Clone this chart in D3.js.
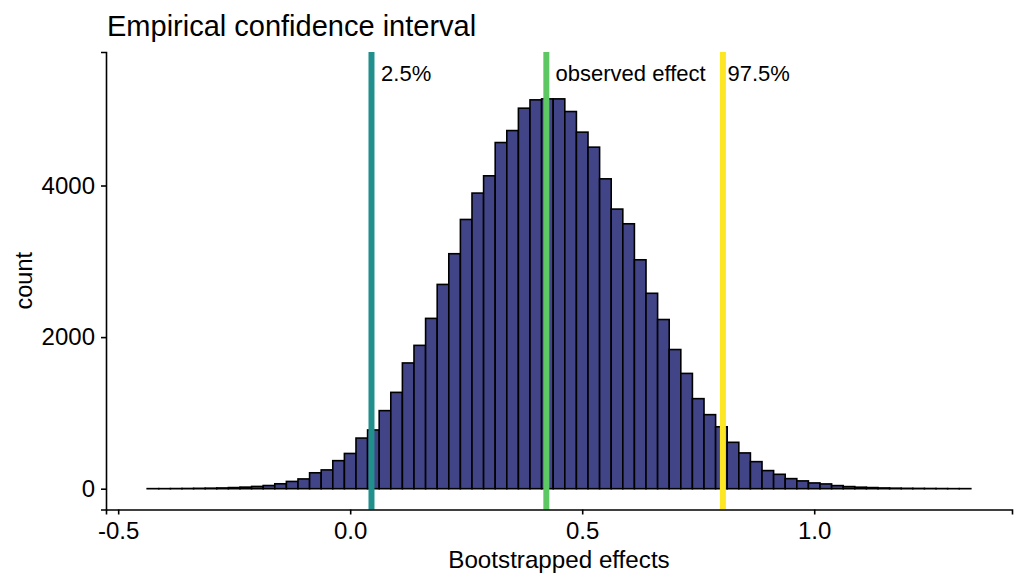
<!DOCTYPE html>
<html>
<head>
<meta charset="utf-8">
<script src="https://cdn.jsdelivr.net/npm/d3@7"></script>
<style>
  body { margin: 0; background: #fff; }
  svg { font-family: "Liberation Sans", Arial, sans-serif; }
</style>
</head>
<body>
<svg width="1024" height="585"></svg>
<script>
// histogram bins: first lower edge and width, then count per bin
const binStart = -0.4375;
const binWidth = 0.025;
const counts = [
  1, 1, 2, 3, 5, 7, 10, 15, 21, 30,
  42, 65, 96, 129, 210, 248, 370, 465, 668, 775,
  1030, 1271, 1659, 1891, 2247, 2695, 3100, 3552, 3900, 4128,
  4567, 4725, 5020, 5130, 5143, 5143, 4976, 4704, 4506, 4088,
  3689, 3495, 3020, 2578, 2232, 1836, 1521, 1188, 977, 817,
  612, 472, 357, 239, 190, 133, 103, 76, 63, 41,
  28, 20, 15, 10, 7, 5, 4, 3, 2, 1, 1
];

// vertical reference lines and their labels
const cutoffs = [0.0459, 0.4227, 0.8032];
const cutoffLabels = ['2.5%', 'observed effect', '97.5%'];
const labelX = [0.0665, 0.4426, 0.813];
const labelY = 5487;
const cutoffColors = ['#21908C', '#5DC863', '#FDE725'];

const xTicks = [-0.5, 0, 0.5, 1.0];
const yTicks = [0, 2000, 4000];

const svg = d3.select('svg');
const panel = { left: 106, right: 1012, top: 52, bottom: 509.5 };

// build bins from counts
const bins = counts.map((c, i) => ({
  x0: binStart + i * binWidth,
  x1: binStart + (i + 1) * binWidth,
  count: c
}));

// scales with ggplot-like 5% padding
const xMin = bins[0].x0, xMax = bins[bins.length - 1].x1;
const xPad = (xMax - xMin) * 0.05;
const x = d3.scaleLinear()
  .domain([xMin - xPad, xMax + xPad])
  .range([panel.left, panel.right]);

const yPad = labelY * 0.05;
const y = d3.scaleLinear()
  .domain([-yPad, labelY + yPad])
  .range([panel.bottom, panel.top]);

// bars
svg.append('g')
  .selectAll('rect')
  .data(bins)
  .enter()
  .append('rect')
  .attr('x', d => x(d.x0))
  .attr('width', d => x(d.x1) - x(d.x0))
  .attr('y', d => y(d.count))
  .attr('height', d => y(0) - y(d.count))
  .attr('fill', '#414487')
  .attr('stroke', '#000')
  .attr('stroke-width', 1.6);

// vertical lines
svg.append('g')
  .selectAll('line')
  .data(cutoffs)
  .enter()
  .append('line')
  .attr('x1', d => x(d))
  .attr('x2', d => x(d))
  .attr('y1', panel.top)
  .attr('y2', panel.bottom)
  .attr('stroke', (d, i) => cutoffColors[i])
  .attr('stroke-width', 6);

// line labels, vertically centred on labelY
svg.append('g')
  .selectAll('text')
  .data(cutoffLabels)
  .enter()
  .append('text')
  .attr('x', (d, i) => x(labelX[i]))
  .attr('y', y(labelY))
  .attr('dy', '0.38em')
  .attr('font-size', 22)
  .attr('fill', '#000')
  .text(d => d);

// axes
const xAxis = svg.append('g')
  .attr('transform', `translate(0,${panel.bottom})`)
  .call(d3.axisBottom(x)
    .tickValues(xTicks)
    .tickFormat(d => d.toFixed(1))
    .tickSizeOuter(0)
    .tickSize(5)
    .tickPadding(7));

const yAxis = svg.append('g')
  .attr('transform', `translate(${panel.left},0)`)
  .call(d3.axisLeft(y)
    .tickValues(yTicks)
    .tickFormat(d => String(d))
    .tickSizeOuter(0)
    .tickSize(5)
    .tickPadding(6));

[xAxis, yAxis].forEach(g => {
  g.selectAll('path, line').attr('stroke', '#000').attr('stroke-width', 1.6);
  g.selectAll('text')
    .attr('font-size', 24)
    .attr('fill', '#000')
    .attr('font-family', '"Liberation Sans", Arial, sans-serif');
});

// titles
svg.append('text')
  .attr('x', 107)
  .attr('y', 36)
  .attr('font-size', 29)
  .text('Empirical confidence interval');

svg.append('text')
  .attr('x', (panel.left + panel.right) / 2)
  .attr('y', 568)
  .attr('text-anchor', 'middle')
  .attr('font-size', 24.2)
  .text('Bootstrapped effects');

svg.append('text')
  .attr('transform', `translate(31.5,${(panel.top + panel.bottom) / 2}) rotate(-90)`)
  .attr('text-anchor', 'middle')
  .attr('font-size', 23.5)
  .text('count');
</script>
</body>
</html>
